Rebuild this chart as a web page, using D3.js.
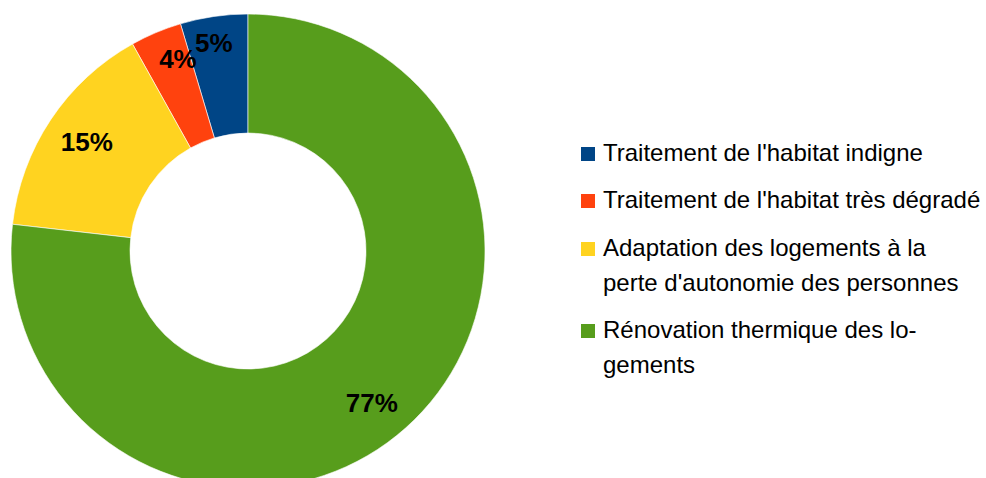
<!DOCTYPE html>
<html>
<head>
<meta charset="utf-8">
<script src="https://cdn.jsdelivr.net/npm/d3@7"></script>
<style>
  html, body { margin: 0; padding: 0; background: #ffffff; }
  svg { display: block; }
</style>
</head>
<body>
<svg id="chart" width="986" height="478"></svg>
<script>
// Répartition des aides par type de travaux
const categories = [
  "Traitement de l'habitat indigne",
  "Traitement de l'habitat très dégradé",
  "Adaptation des logements à la perte d'autonomie des personnes",
  "Rénovation thermique des logements"
];
const shares = [4.6, 3.5, 15.1, 76.8];
const colors = ["#004586", "#ff420e", "#ffd320", "#579d1c"];
// Legend lines as wrapped in the legend box
const legendLines = [
  ["Traitement de l'habitat indigne"],
  ["Traitement de l'habitat très dégradé"],
  ["Adaptation des logements à la", "perte d'autonomie des personnes"],
  ["Rénovation thermique des lo-", "gements"]
];

const svg = d3.select("#chart");
const cx = 248, cy = 251;
const outerR = 237, innerR = 118;

const data = categories.map((c, i) => ({ name: c, value: shares[i], color: colors[i] }));

// Slices run counter-clockwise from 12 o'clock
const pie = d3.pie()
  .value(d => d.value)
  .sort(null)
  .startAngle(0)
  .endAngle(-2 * Math.PI);

const arcs = pie(data);
const arc = d3.arc().innerRadius(innerR).outerRadius(outerR);

const g = svg.append("g").attr("transform", `translate(${cx},${cy})`);

g.selectAll("path.slice")
  .data(arcs)
  .join("path")
  .attr("class", "slice")
  .attr("d", arc)
  .attr("fill", d => d.data.color)
  .attr("stroke", "#ffffff")
  .attr("stroke-width", 0.6);

// Percentage labels; the two narrow slices push their labels outward
const labelR = [211, 205, 195, 196];
const labelShift = [-0.018, 0.05, 0.01, 0.045];
g.selectAll("text.pct")
  .data(arcs)
  .join("text")
  .attr("class", "pct")
  .attr("x", (d, i) => {
    const a = (d.startAngle + d.endAngle) / 2 + labelShift[i];
    return labelR[i] * Math.sin(a);
  })
  .attr("y", (d, i) => {
    const a = (d.startAngle + d.endAngle) / 2 + labelShift[i];
    return -labelR[i] * Math.cos(a);
  })
  .attr("dy", "0.36em")
  .attr("text-anchor", "middle")
  .attr("font-family", "'Liberation Sans', Arial, sans-serif")
  .attr("font-weight", "bold")
  .attr("font-size", 26)
  .attr("fill", "#000000")
  .text(d => Math.round(d.data.value) + "%");

// Legend
const legend = svg.append("g").attr("transform", "translate(581,147)");
const rowTop = [0, 47, 95, 177];
const lineH = 35;

const items = legend.selectAll("g.item")
  .data(data)
  .join("g")
  .attr("class", "item")
  .attr("transform", (d, i) => `translate(0,${rowTop[i]})`);

items.append("rect")
  .attr("x", 0)
  .attr("y", 0)
  .attr("width", 14)
  .attr("height", 14)
  .attr("fill", d => d.color);

items.each(function (d, i) {
  const t = d3.select(this).append("text")
    .attr("x", 22)
    .attr("y", 14)
    .attr("font-family", "'Liberation Sans', Arial, sans-serif")
    .attr("font-size", 24)
    .attr("fill", "#000000");
  legendLines[i].forEach((line, j) => {
    t.append("tspan")
      .attr("x", 22)
      .attr("dy", j === 0 ? 0 : lineH)
      .text(line);
  });
});
</script>
</body>
</html>
